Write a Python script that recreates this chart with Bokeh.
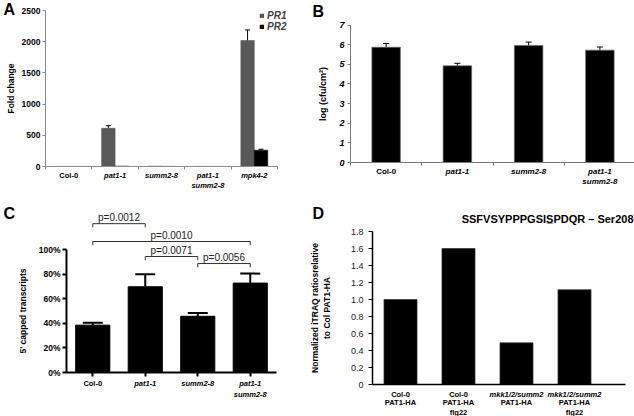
import numpy as np
from bokeh.plotting import figure
from bokeh.models import (ColumnDataSource, FixedTicker, CustomJSTickFormatter, Whisker,
                          TeeHead, Legend, LegendItem, NumeralTickFormatter)
from bokeh.layouts import column, row
from bokeh.embed import file_html
from bokeh.resources import INLINE
from bokeh.core.properties import value

# ---------------- data ----------------
# Panel A
a_categories = ["Col-0", "pat1-1", "summ2-8", "pat1-1\nsumm2-8", "mpk4-2"]
a_italic = [False, True, True, True, True]
a_pr1 = [1, 612, 6, 2, 2018]
a_pr1_err = [0, 42, 0, 0, 170]
a_pr2 = [1, 6, 2, 1, 262]
a_pr2_err = [0, 0, 0, 0, 15]
a_yticks = [0, 500, 1000, 1500, 2000, 2500]

# Panel B
b_categories = ["Col-0", "pat1-1", "summ2-8", "pat1-1\nsumm2-8"]
b_italic = [False, True, True, True]
b_values = [5.87, 4.92, 5.96, 5.72]
b_err = [0.19, 0.13, 0.17, 0.16]
b_yticks = [0, 1, 2, 3, 4, 5, 6, 7]

# Panel C
c_categories = ["Col-0", "pat1-1", "summ2-8", "pat1-1\nsumm2-8"]
c_italic = [False, True, True, True]
c_values = [0.385, 0.697, 0.457, 0.727]
c_err = [0.019, 0.102, 0.027, 0.077]
c_yticks = [0, 0.2, 0.4, 0.6, 0.8, 1.0]
c_from = [0, 0, 1, 2]
c_to = [1, 3, 2, 3]
c_p_labels = ["p=0.0012", "p=0.0010", "p=0.0071", "p=0.0056"]
c_bracket_y = [1.21, 1.065, 0.943, 0.886]

# Panel D
d_line1 = ["Col-0", "Col-0", "mkk1/2/summ2", "mkk1/2/summ2"]
d_line1_italic = [False, False, True, True]
d_rest = ["PAT1-HA", "PAT1-HA\nflg22", "PAT1-HA", "PAT1-HA\nflg22"]
d_values = [1.0, 1.6, 0.49, 1.115]
d_yticks = [0, 0.2, 0.4, 0.6, 0.8, 1.0, 1.2, 1.4, 1.6, 1.8]
d_title = "SSFVSYPPPGSIS\u0332PDQR \u2013 Ser208"

FONT = "Liberation Sans"


class Panel:
    """A figure whose frame fills the whole canvas; the axes are pinned inside it
    (fixed_location), so every piece of the panel is placed through its scales."""

    def __init__(self, W, H, xcal, ycal, xbounds, ybounds, axis_color):
        (px1, x1), (px2, x2) = xcal
        (py1, y1), (py2, y2) = ycal
        self.sx = (x2 - x1) / (px2 - px1)
        self.x0 = x1 - px1 * self.sx
        self.sy = (y1 - y2) / (py2 - py1)
        self.ytop = y1 + py1 * self.sy
        self.H = H
        p = figure(width=W, height=H,
                   x_range=(self.x0, self.x0 + W * self.sx),
                   y_range=(self.ytop - H * self.sy, self.ytop),
                   title=None, output_backend="svg", toolbar_location=None,
                   min_border=0, min_border_left=0, min_border_right=0,
                   min_border_top=0, min_border_bottom=0)
        try:
            p.frame_align = False
        except Exception:
            pass
        p.xgrid.visible = False
        p.ygrid.visible = False
        p.outline_line_color = None
        for ax in (p.xaxis[0], p.yaxis[0]):
            ax.minor_tick_line_color = None
            ax.major_tick_in = 0
            ax.axis_line_color = axis_color
            ax.major_tick_line_color = axis_color
            ax.major_label_text_font = FONT
            ax.major_label_text_color = "black"
            ax.axis_label_text_font = FONT
            ax.axis_label_text_font_style = "bold"
            ax.axis_label_text_color = "black"
        p.xaxis.fixed_location = 0
        p.xaxis.bounds = xbounds
        p.xaxis.formatter = CustomJSTickFormatter(code="return ''")
        p.xaxis.major_label_text_font_size = "1px"
        p.xaxis.major_label_standoff = 0
        p.yaxis.fixed_location = xbounds[0]
        p.yaxis.bounds = ybounds
        self.p = p

    def X(self, px):
        return self.x0 + px * self.sx

    def Y(self, py):
        return self.ytop - py * self.sy

    def text_at(self, px, py, text, size, style="bold", align="left", baseline="top"):
        self.p.text(x=[self.X(px)], y=[self.Y(py)], text=[text], text_font=value(FONT),
                    text_font_style=style, text_font_size=value(size), text_align=align,
                    text_baseline=baseline, text_color="black")

    def cat_labels(self, xs, texts, italic, size, offset, line_height):
        for it in (False, True):
            sel = [i for i in range(len(texts)) if italic[i] == it]
            if not sel:
                continue
            self.p.text(x=[xs[i] for i in sel], y=[0] * len(sel), text=[texts[i] for i in sel],
                        text_font=value(FONT), text_font_style="bold italic" if it else "bold",
                        text_font_size=value(size), text_align="center", text_baseline="top",
                        y_offset=offset, text_line_height=line_height, text_color="black")


# ---------------- Panel A ----------------
xa = [float(i) for i in range(len(a_categories))]
off = 0.145
A = Panel(310, 200, ((45, -0.5), (277, 4.5)), ((166, 0), (10, 2500)), (-0.5, 4.5), (0, 2500), "#8c8c8c")
pA = A.p
r1 = pA.vbar(x=[x - off for x in xa], top=a_pr1, width=0.29, fill_color="#595959",
             line_color="#4a4a4a", line_width=0.5)
r2 = pA.vbar(x=[x + off for x in xa], top=a_pr2, width=0.29, fill_color="black",
             line_color="black", line_width=0.5)
wx, wb, wu = [], [], []
for sgn, vals, errs in ((-1, a_pr1, a_pr1_err), (1, a_pr2, a_pr2_err)):
    for x, v, e in zip(xa, vals, errs):
        if e > 0:
            wx.append(x + sgn * off); wb.append(v); wu.append(v + e)
pA.add_layout(Whisker(source=ColumnDataSource(dict(x=wx, b=wb, u=wu)), base="x", lower="b", upper="u",
                      dimension="height", line_color="black", line_width=1,
                      lower_head=None, upper_head=TeeHead(size=5, line_width=1, line_color="black")))
pA.yaxis.ticker = FixedTicker(ticks=a_yticks)
pA.yaxis.major_label_text_font_style = "bold"
pA.yaxis.major_label_text_font_size = "8.5px"
pA.yaxis.major_tick_out = 3
pA.yaxis.major_label_standoff = 2
pA.yaxis.axis_label = "Fold change"
pA.yaxis.axis_label_text_font_size = "8.5px"
pA.yaxis.axis_label_standoff = 3
pA.xaxis.ticker = FixedTicker(ticks=[x - 0.5 for x in xa] + [xa[-1] + 0.5])
pA.xaxis.major_tick_out = 3
A.cat_labels(xa, a_categories, a_italic, "7.5px", 4.5, 1.13)
legA = Legend(items=[LegendItem(label="PR1", renderers=[r1]), LegendItem(label="PR2", renderers=[r2])],
              location=(259, 168), glyph_width=5, glyph_height=5, label_standoff=3, spacing=0,
              padding=0, margin=0, label_height=11, label_text_font=FONT,
              label_text_font_style="bold italic", label_text_font_size="10px",
              background_fill_alpha=0, border_line_alpha=0)
pA.add_layout(legA)
A.text_at(3, 0, "A", "16px")

# ---------------- Panel B ----------------
xb = [float(i) for i in range(len(b_categories))]
B = Panel(324, 200, ((40, -0.5), (325, 3.5)), ((162, 0), (24.5, 7)), (-0.5, 3.5), (0, 7), "#7a7a7a")
pB = B.p
pB.vbar(x=xb, top=b_values, width=0.4, fill_color="black", line_color="#666666", line_width=0.7)
pB.add_layout(Whisker(source=ColumnDataSource(dict(x=xb, b=b_values, u=np.add(b_values, b_err))),
                      base="x", lower="b", upper="u", dimension="height", line_color="black",
                      line_width=1, lower_head=None,
                      upper_head=TeeHead(size=6, line_width=1, line_color="black")))
pB.yaxis.ticker = FixedTicker(ticks=b_yticks)
pB.yaxis.major_label_text_font_style = "bold italic"
pB.yaxis.major_label_text_font_size = "9px"
pB.yaxis.major_tick_out = 3
pB.yaxis.major_label_standoff = 3
pB.yaxis.axis_label = "log (cfu/cm\u00b2)"
pB.yaxis.axis_label_text_font_size = "9px"
pB.yaxis.axis_label_standoff = 8
pB.xaxis.ticker = FixedTicker(ticks=[x - 0.5 for x in xb] + [xb[-1] + 0.5])
pB.xaxis.major_tick_out = 3
B.cat_labels(xb, b_categories, b_italic, "8px", 4.2, 1.16)
B.text_at(2, 2, "B", "16px")

# ---------------- Panel C ----------------
xc = [float(i) for i in range(len(c_categories))]
C = Panel(310, 216, ((66, -0.5), (276, 3.5)), ((172, 0), (49, 1.0)), (-0.5, 3.5), (0, 1.0), "black")
pC = C.p
pC.vbar(x=xc, top=c_values, width=0.65, fill_color="black", line_color="black")
pC.add_layout(Whisker(source=ColumnDataSource(dict(x=xc, b=c_values, u=np.add(c_values, c_err))),
                      base="x", lower="b", upper="u", dimension="height", line_color="black",
                      line_width=2, lower_head=None,
                      upper_head=TeeHead(size=20, line_width=2, line_color="black")))
drop = 0.03
bxs = [[xc[i], xc[i], xc[j], xc[j]] for i, j in zip(c_from, c_to)]
bys = [[y - drop, y, y, y - drop] for y in c_bracket_y]
pC.multi_line(xs=bxs, ys=bys, line_color="#333333", line_width=1)
pC.text(x=[(xc[i] + xc[j]) / 2 for i, j in zip(c_from, c_to)], y=c_bracket_y, text=c_p_labels,
        text_font=value(FONT), text_font_size=value("10px"), text_align="center",
        text_baseline="bottom", y_offset=-1, text_color="#222222")
pC.yaxis.ticker = FixedTicker(ticks=c_yticks)
pC.yaxis.formatter = NumeralTickFormatter(format="0%")
pC.yaxis.major_label_text_font_style = "bold"
pC.yaxis.major_label_text_font_size = "8.5px"
pC.yaxis.major_tick_out = 4
pC.yaxis.major_label_standoff = 2
pC.yaxis.axis_label = "5' capped transcripts"
pC.yaxis.axis_label_text_font_size = "8.5px"
pC.yaxis.axis_label_standoff = 8
for ax in (pC.xaxis[0], pC.yaxis[0]):
    ax.axis_line_width = 2
    ax.major_tick_line_width = 2
pC.xaxis.ticker = FixedTicker(ticks=xc)
pC.xaxis.major_tick_out = 4
C.cat_labels(xc, c_categories, c_italic, "7.5px", 6.5, 1.2)
C.text_at(3, 4, "C", "16px")

# ---------------- Panel D ----------------
xd = [float(i) for i in range(len(d_values))]
D = Panel(324, 216, ((90, 0), (264, 3)), ((184, 0), (31, 1.8)), (-0.483, 3.88), (0, 1.8), "black")
pD = D.p
pD.vbar(x=xd, top=d_values, width=0.57, fill_color="black", line_color="#333333", line_width=0.7)
pD.yaxis.ticker = FixedTicker(ticks=d_yticks)
pD.yaxis.formatter = CustomJSTickFormatter(code="return tick == 0 ? '0' : tick.toFixed(1)")
pD.yaxis.major_label_text_font_size = "9px"
pD.yaxis.major_label_text_color = "#222222"
pD.yaxis.major_tick_out = 4
pD.yaxis.major_label_standoff = 5
pD.yaxis.axis_label = "Normalized iTRAQ ratiosrelative\nto Col PAT1-HA"
pD.yaxis.axis_label_text_font_size = "8.5px"
pD.yaxis.axis_label_standoff = 16
for ax in (pD.xaxis[0], pD.yaxis[0]):
    ax.axis_line_width = 1.5
pD.xaxis.ticker = FixedTicker(ticks=xd)
pD.xaxis.major_tick_line_color = None
pD.xaxis.major_tick_out = 0
D.cat_labels(xd, d_line1, d_line1_italic, "7.5px", 5, 1.15)
D.cat_labels(xd, d_rest, [False] * 4, "7.5px", 13.5, 1.15)
D.text_at(323, 18, d_title, "11px", align="right", baseline="middle")
D.text_at(2, 4, "D", "16px")

layout = column(row(pA, pB), row(pC, pD))
open("out.html", "w").write(file_html(layout, INLINE))
